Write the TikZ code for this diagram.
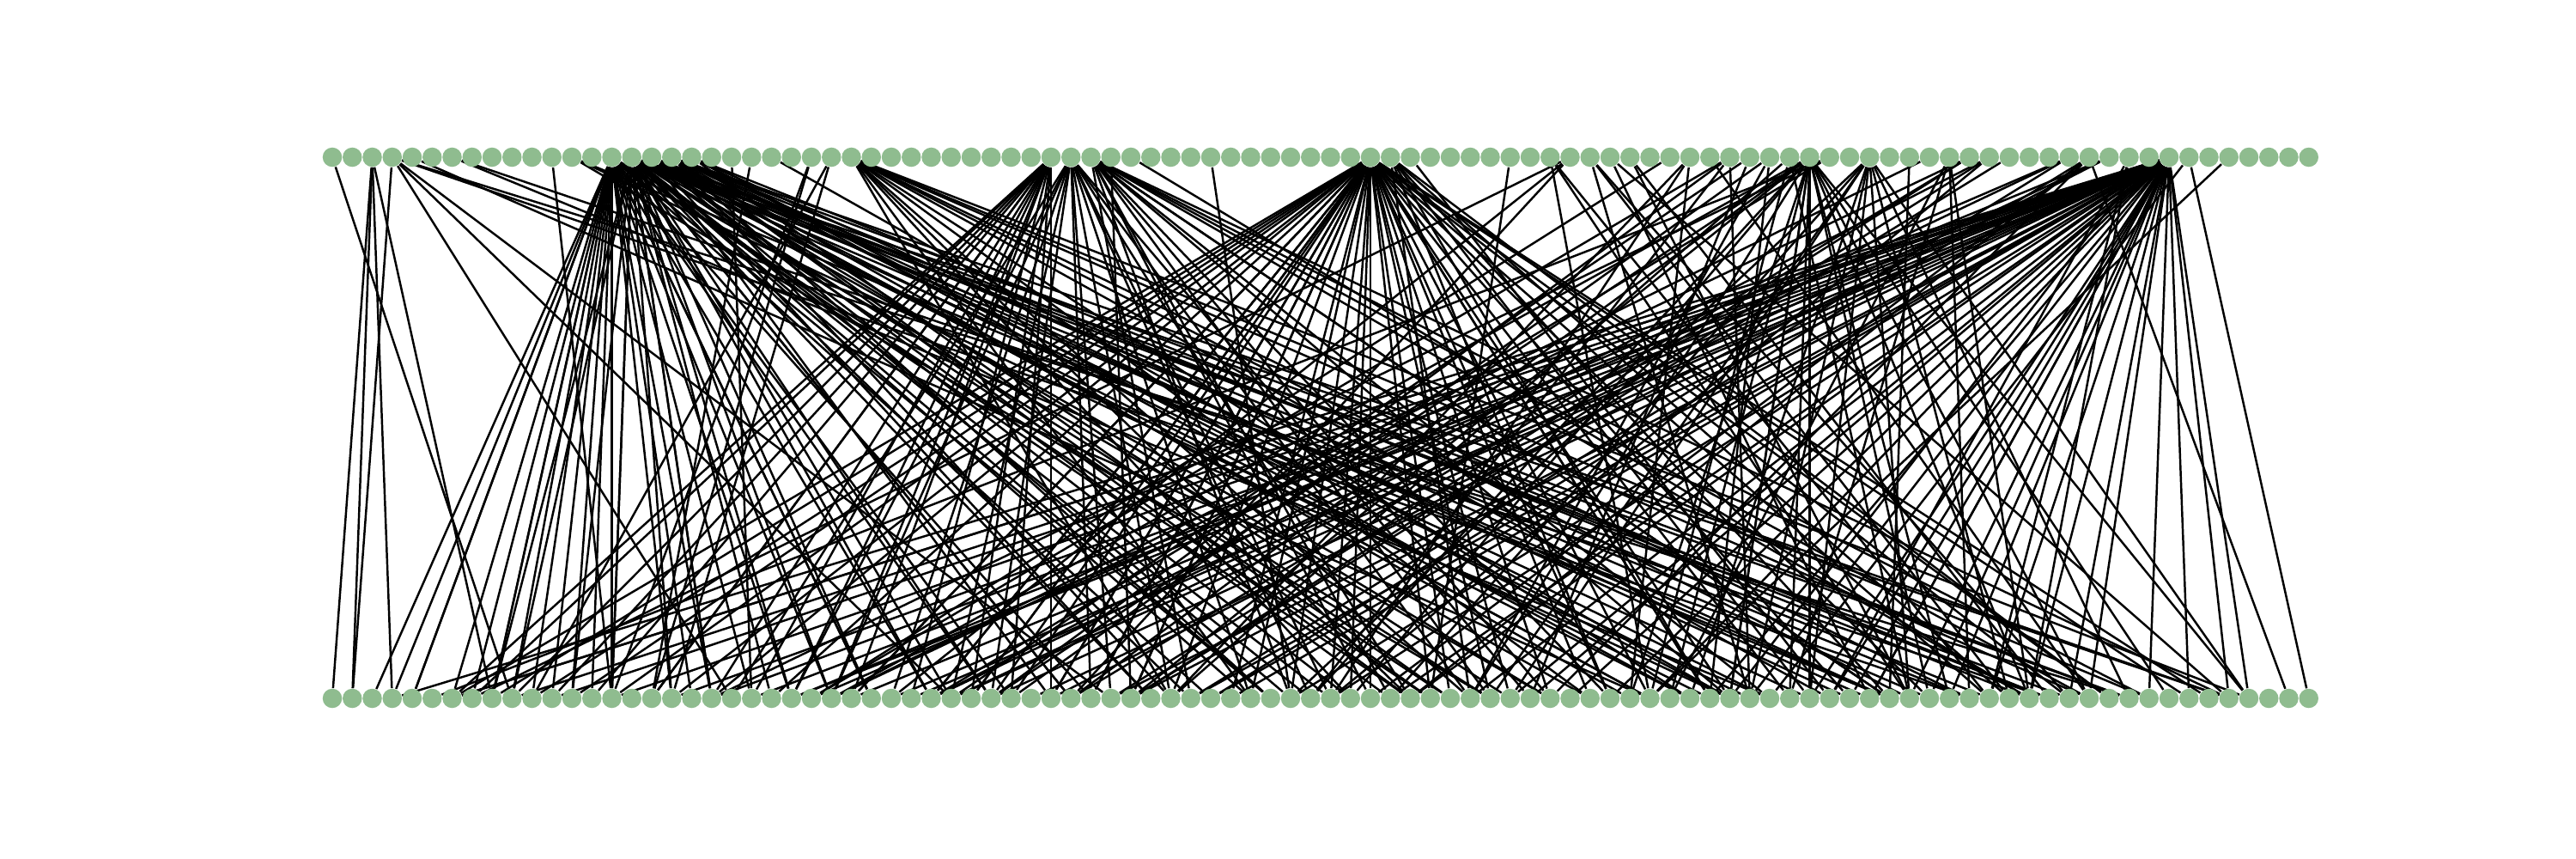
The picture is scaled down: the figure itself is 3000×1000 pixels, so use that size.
\documentclass[tikz,border=0pt]{standalone}
\definecolor{nodegreen}{HTML}{8FBC8F}
\pgfdeclarelayer{edges}
\pgfsetlayers{edges,main}
\tikzset{
  vert/.style={circle, fill=nodegreen, draw=none, inner sep=0pt, minimum size=0.225cm},
  edge/.style={line width=0.7pt, draw=black}
}
\begin{document}
\begin{tikzpicture}[x=0.01cm, y=-0.01cm]
\pgfmathsetseed{4242}
\useasboundingbox (0,0) rectangle (3000,1000);
\foreach \i in {0,...,99}{
  \node[vert] (t\i) at ({387+23.25*\i},183) {};
  \node[vert] (b\i) at ({387+23.25*\i},813) {};
}
\begin{pgfonlayer}{edges}
\foreach \t/\n/\lo/\hi in {
  14/14/2/14, 14/10/14/30, 14/8/30/62,
  15/10/8/24, 15/12/24/50, 15/12/50/95,
  16/12/35/88, 17/12/40/96, 18/5/55/92,
  24/2/12/17, 25/2/10/20, 26/13/40/97,
  36/16/4/36, 37/15/20/60, 38/15/42/96,
  52/15/4/40, 52/24/30/70, 52/9/70/97, 53/7/55/90,
  61/3/60/90, 63/3/65/95, 64/2/60/95, 65/2/70/95, 62/2/20/40,
  68/3/40/70, 70/4/15/80, 71/2/30/70, 72/3/30/80, 73/3/40/85,
  74/9/25/70, 74/10/65/96, 75/3/5/30, 77/11/45/97,
  81/4/60/90, 82/3/25/45, 83/3/30/50, 87/3/20/45, 88/4/40/65,
  89/3/15/40, 90/3/70/92,
  92/20/2/45, 92/17/45/80, 92/12/75/97}{
  \foreach \k in {1,...,\n}{
    \pgfmathtruncatemacro\j{\lo+(\k-1+rnd)*(\hi-\lo+1)/\n}
    \draw[edge] (t\t) -- (b\j);
  }
}
\foreach \t/\b in {0/9, 2/0, 2/1, 2/3, 2/8, 3/1, 3/20, 3/31, 3/39, 3/82, 3/90,
  4/66, 6/72, 6/86, 11/14, 12/58, 12/70, 12/78, 20/21, 21/16, 22/70,
  39/40, 40/85, 44/48, 54/75, 59/55, 62/7, 67/24, 69/88, 79/78, 80/25,
  84/40, 91/70, 93/99, 93/72, 95/66, 88/98}
  \draw[edge] (t\t) -- (b\b);
\end{pgfonlayer}
\end{tikzpicture}
\end{document}
